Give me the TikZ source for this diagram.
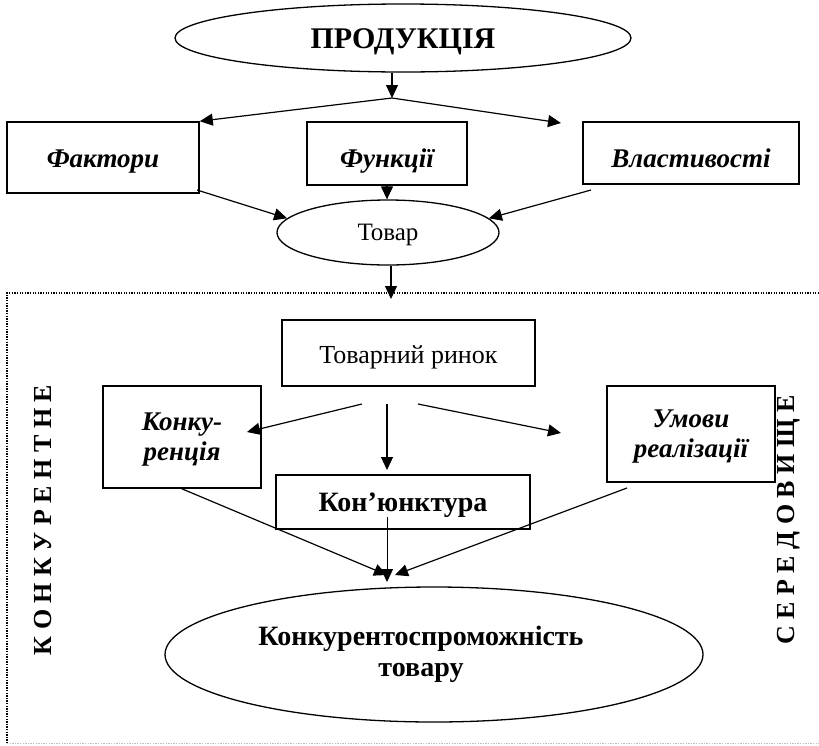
\documentclass[tikz,border=0pt]{standalone}
\usepackage{fontspec}
\setmainfont{Liberation Serif}
\usetikzlibrary{shapes.geometric,arrows.meta}

\begin{document}
\begin{tikzpicture}[x=1pt,y=-1pt,
  caja/.style={draw,line width=1.6pt,inner sep=0pt,align=center},
  elip/.style={draw,ellipse,line width=1.3pt,inner sep=0pt,align=center},
  base/.style={text height=#1,text depth=0pt},
  flecha/.style={line width=1.2pt,-{Triangle[length=13pt,width=12pt]}},
  marco/.style={line width=1.3pt,dash pattern=on 1.3pt off 1.3pt},
  negrita/.style={font=\fontsize{28}{31}\selectfont\bfseries},
  cursiva/.style={font=\fontsize{27}{30}\selectfont\bfseries\itshape},
  normal/.style={font=\fontsize{26}{30}\selectfont},
  vertical/.style={font=\fontsize{26}{30}\selectfont\bfseries,rotate=90}]
\useasboundingbox (0,0) rectangle (819,745);

%Marco punteado del entorno
\draw[marco] (819,293) -- (7,293) -- (7,743);
\draw[marco,gray!50,line width=0.8pt] (7,743) -- (819,743);
\node[vertical] (izq) at (43,520) {К О Н К У Р Е Н Т Н Е};
\node[vertical] (der) at (789,520) {С Е Р Е Д О В И Щ Е};

%Nivel superior
\node[elip,minimum width=456,minimum height=68,base=20pt,font=\fontsize{30}{32}\selectfont\bfseries] (prod) at (403,38) {ПРОДУКЦІЯ};
\node[caja,minimum width=192,minimum height=71,base=19pt,cursiva] (fakt) at (103,157.5) {Фактори};
\node[caja,minimum width=160,minimum height=63,base=27pt,cursiva] (funk) at (387,153.5) {Функції};
\node[caja,minimum width=216,minimum height=62,base=28pt,cursiva] (vlast) at (691,153) {Властивості};
\node[elip,minimum width=222,minimum height=65,base=15pt,font=\fontsize{25}{28}\selectfont] (tovar) at (388,232.5) {Товар};

%Nivel inferior
\node[caja,minimum width=253,minimum height=66,base=20pt,normal] (rynok) at (408.5,353) {Товарний ринок};
\node[caja,minimum width=158,minimum height=102,text depth=0pt,cursiva] (konk) at (182,437) {Конку-\\ренція};
\node[caja,minimum width=168,minimum height=96,text depth=0pt,cursiva] (umovy) at (691,434) {Умови\\реалізації};
\node[caja,minimum width=254,minimum height=54,base=19pt,negrita] (konj) at (403,502) {Кон’юнктура};
\node[elip,minimum width=538,minimum height=135] (konkur) at (434,654.5) {};
\node[negrita,align=center] (konkurtxt) at (421,654) {Конкурентоспроможність\\товару};

%Puntos auxiliares
\coordinate (split) at (392,98);
\coordinate (avlast) at (561,123);
\coordinate (dfakt) at (197,190);
\coordinate (dvlast) at (591,190);
\coordinate (entrada) at (391,299);
\coordinate (dkonk) at (180,488);
\coordinate (dumovy) at (627,488);
\coordinate (dkonj) at (387,517);
\coordinate (meta) at (387,582);
\coordinate (metai) at (387,575);
\coordinate (metad) at (395,575);

%Flechas superiores
\draw[flecha] (split |- prod.south) -- (split);
\draw[flecha] (split) -- (fakt.north east);
\draw[flecha] (split) -- (avlast);
\draw[flecha] (funk.south) -- (funk.south |- tovar.north);
\draw[flecha] (dfakt) -- (tovar.172);
\draw[flecha] (dvlast) -- (tovar.8);
\draw[flecha] (entrada |- tovar.south) -- (entrada);

%Flechas desde el mercado
\foreach \ini/\fin [count=\i] in {362/{247,432},387/{387,470},418/{561,433}}{
    \coordinate (r\i) at (\ini,404);
    \draw[flecha] (r\i) -- (\fin);
}

%Convergencia hacia la competitividad
\draw[flecha] (dkonk) -- (metai);
\draw[flecha] (dumovy) -- (metad);
\draw[flecha,line width=1pt] (dkonj) -- (meta);
\end{tikzpicture}
\end{document}
